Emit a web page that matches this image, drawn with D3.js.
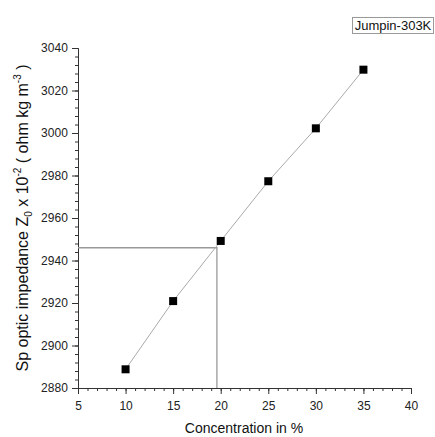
<!DOCTYPE html>
<html><head><meta charset="utf-8">
<script src="https://cdn.jsdelivr.net/npm/d3@7"></script>
<style>body{margin:0;background:#fff}svg{display:block;font-family:"Liberation Sans",Arial,sans-serif}</style>
</head><body><svg id="c" width="435" height="437"></svg>
<script>
const concentration = [10, 15, 20, 25, 30, 35];
const impedance = [2888.8, 2920.9, 2949.2, 2977.3, 3002.2, 3029.8];
const xTicks = [5, 10, 15, 20, 25, 30, 35, 40];
const yTicks = [2880, 2900, 2920, 2940, 2960, 2980, 3000, 3020, 3040];
const guideX = [19.6];
const guideY = [2946];
const legendLabel = "Jumpin-303K";

const svg = d3.select("#c");
const x = d3.scaleLinear().domain([5, 40]).range([78, 411]);
const y = d3.scaleLinear().domain([2880, 3040]).range([388, 48]);
const axisColor = "#333";

// minor ticks
const gx = svg.append("g").attr("transform", "translate(0,388)");
gx.call(d3.axisBottom(x).tickValues(d3.range(5, 41, 1)).tickSize(3).tickFormat(""));
gx.append("g").call(d3.axisBottom(x).tickValues(xTicks).tickSize(6).tickSizeOuter(0).tickFormat(d3.format("d")));
gx.selectAll("path,line").attr("stroke", axisColor);
gx.selectAll("text").attr("font-size", 12).attr("fill", "#222").attr("dy", "1.05em");

const gy = svg.append("g").attr("transform", "translate(78,0)");
gy.call(d3.axisLeft(y).tickValues(d3.range(2880, 3041, 4)).tickSize(3).tickFormat(""));
gy.append("g").call(d3.axisLeft(y).tickValues(yTicks).tickSize(6).tickSizeOuter(0).tickFormat(d3.format("d")));
gy.selectAll("path,line").attr("stroke", axisColor);
gy.selectAll("text").attr("font-size", 12).attr("fill", "#222").attr("dx", "-0.1em");

// guide lines
svg.append("path")
  .attr("d", `M${x(5)},${y(guideY[0])}H${x(guideX[0])}V${y(2880)}`)
  .attr("fill", "none").attr("stroke", "#999").attr("stroke-width", 1.3);

// data line
const pts = concentration.map((c, i) => [c, impedance[i]]);
svg.append("path").datum(pts)
  .attr("d", d3.line().x(d => x(d[0])).y(d => y(d[1])))
  .attr("fill", "none").attr("stroke", "#aaa").attr("stroke-width", 1);

svg.selectAll("rect.pt").data(pts).join("rect").attr("class", "pt")
  .attr("x", d => x(d[0]) - 4).attr("y", d => y(d[1]) - 4)
  .attr("width", 8).attr("height", 8).attr("fill", "#000");

// legend
svg.append("rect").attr("x", 352.5).attr("y", 17.5).attr("width", 81).attr("height", 16)
  .attr("fill", "#fff").attr("stroke", "#999");
svg.append("text").attr("x", 393).attr("y", 30).attr("text-anchor", "middle")
  .attr("font-size", 13).attr("fill", "#111").text(legendLabel);

// x label
svg.append("text").attr("x", 244).attr("y", 433).attr("text-anchor", "middle")
  .attr("font-size", 14).attr("fill", "#111").text("Concentration in %");

// y label
const yl = svg.append("text").attr("transform", "translate(28,218) rotate(-90)")
  .attr("text-anchor", "middle").attr("font-size", 16).attr("fill", "#111");
yl.append("tspan").text("Sp optic impedance Z");
yl.append("tspan").attr("font-size", 10).attr("dy", 4).text("0");
yl.append("tspan").attr("dy", -4).text(" x 10");
yl.append("tspan").attr("font-size", 10).attr("dy", -7).text("-2");
yl.append("tspan").attr("dy", 7).text(" ( ohm kg m");
yl.append("tspan").attr("font-size", 10).attr("dy", -7).text("-3");
yl.append("tspan").attr("dy", 7).text(" )");
</script></body></html>
